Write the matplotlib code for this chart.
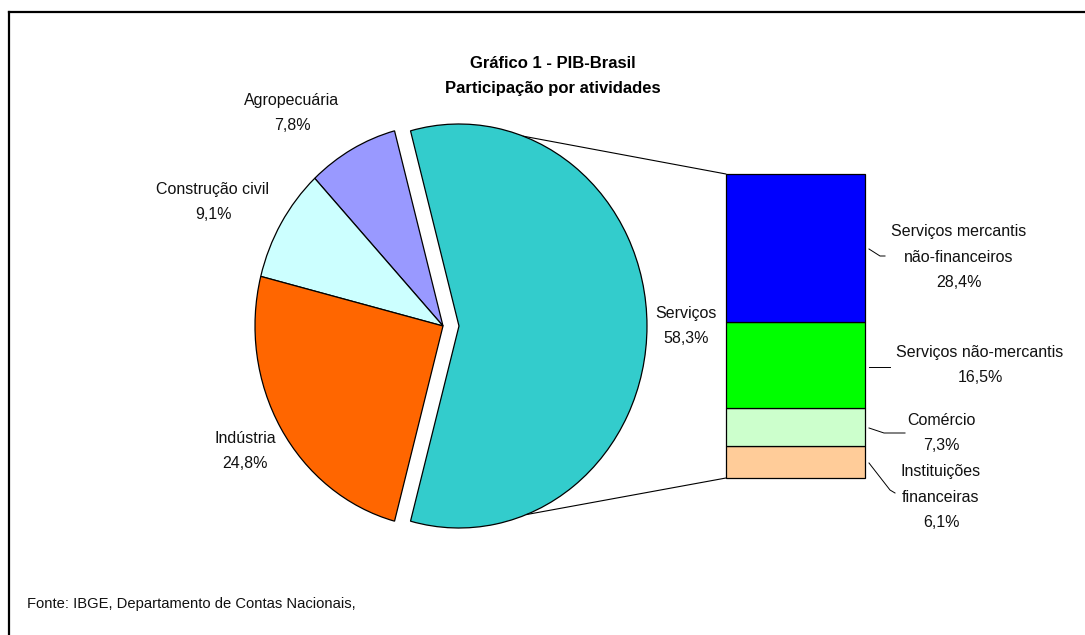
import numpy as np
import matplotlib
matplotlib.use("Agg")
import matplotlib.pyplot as plt
from matplotlib.lines import Line2D
from matplotlib.patches import ConnectionPatch

# ---- data ----
pie_categories = ["Serviços", "Agropecuária", "Construção civil", "Indústria"]
pie_values = [58.3, 7.8, 9.1, 24.8]
pie_colors = ["#33CCCC", "#9999FF", "#CCFFFF", "#FF6600"]

bar_categories = ["Instituições\nfinanceiras", "Comércio",
                  "Serviços não-mercantis", "Serviços mercantis\nnão-financeiros"]
bar_values = [6.1, 7.3, 16.5, 28.4]
bar_colors = ["#FFCC99", "#CCFFCC", "#00FF00", "#0000FF"]

title_text = "Gráfico 1 - PIB-Brasil\nParticipação por atividades"
source_text = "Fonte: IBGE, Departamento de Contas Nacionais,"

def fmt(v):
    return f"{v:.1f}".replace(".", ",") + "%"

plt.rcParams["font.family"] = ["Liberation Sans", "DejaVu Sans"]

W, H = 1085, 635
fig = plt.figure(figsize=(W / 100, H / 100), dpi=100)
fig.patch.set_facecolor("white")

# pie axes: centre at pixel (443, 326); horizontal radius 188 px, vertical 202 px
cx, cy, rx, ry = 443, 326, 188, 202
ax = fig.add_axes([0, 0, 1, 1])
explode = [0.085, 0, 0, 0]
start = -pie_values[0] / 100 * 360 / 2
ax.pie(pie_values, colors=pie_colors, explode=explode, startangle=start,
       counterclock=True,
       wedgeprops=dict(edgecolor="black", linewidth=0.9))
ax.set_aspect("auto")
ax.set_xlim(-cx / rx, (W - cx) / rx)
ax.set_ylim(-(H - cy) / ry, cy / ry)
ax.axis("off")

# bar axes (stacked column)
bx0, bx1, by0, by1 = 726, 865, 174, 478
bax = fig.add_axes([bx0 / W, 1 - by1 / H, (bx1 - bx0) / W, (by1 - by0) / H])
bottom = 0
for val, col in zip(bar_values, bar_colors):
    bars = bax.bar(0, val, bottom=bottom, width=1, color=col, edgecolor="black",
                   linewidth=0.9)
    for b in bars:
        b.set_clip_on(False)
    bottom += val
bax.set_xlim(-0.5, 0.5)
bax.set_ylim(0, sum(bar_values))
bax.axis("off")

# connector lines
ang_top, ang_bot = np.deg2rad(70), np.deg2rad(-69)
for ang, ybar in [(ang_top, sum(bar_values)), (ang_bot, 0)]:
    p = (explode[0] + np.cos(ang), np.sin(ang))
    con = ConnectionPatch(xyA=p, coordsA=ax.transData, xyB=(-0.5, ybar),
                          coordsB=bax.transData, color="black", linewidth=0.8)
    fig.add_artist(con)

def ftxt(x, y, s, **kw):
    kw.setdefault("fontsize", 11.5)
    kw.setdefault("ha", "center")
    kw.setdefault("va", "center")
    kw.setdefault("linespacing", 1.85)
    kw.setdefault("color", "#111111")
    fig.text(x / W, 1 - y / H, s, **kw)

# title
ftxt(553, 76, title_text, fontweight="bold", fontsize=12, color="black",
     linespacing=1.75)

# pie labels
pie_label_pos = [(686, 326), (292, 113), (213, 202), (245, 451)]
for cat, val, (x, y) in zip(pie_categories, pie_values, pie_label_pos):
    ftxt(x, y, f"{cat}\n{fmt(val)}")

# bar labels
bar_label_pos = [(941, 497), (941, 433), (980, 365), (959, 257)]
for cat, val, (x, y) in zip(bar_categories, bar_values, bar_label_pos):
    ftxt(x, y, f"{cat}\n{fmt(val)}")

# leader lines (pixel polylines)
leaders = [
    [(869, 463), (890, 490), (895, 493)],
    [(869, 428), (884, 433), (905, 433)],
    [(869, 367), (890, 367)],
    [(869, 249), (880, 256), (885, 256)],
]
for pts in leaders:
    xs = [p[0] / W for p in pts]
    ys = [1 - p[1] / H for p in pts]
    fig.add_artist(Line2D(xs, ys, color="black", linewidth=0.7))

# source
ftxt(27, 604, source_text, ha="left", fontsize=10.6)

# frame (top and left edges visible)
fig.add_artist(Line2D([8.5 / W, 1], [1 - 12 / H, 1 - 12 / H], color="black", linewidth=1.6))
fig.add_artist(Line2D([8.5 / W, 8.5 / W], [0, 1 - 12 / H], color="black", linewidth=1.6))

fig.savefig("out.png", dpi=100, facecolor="white")
